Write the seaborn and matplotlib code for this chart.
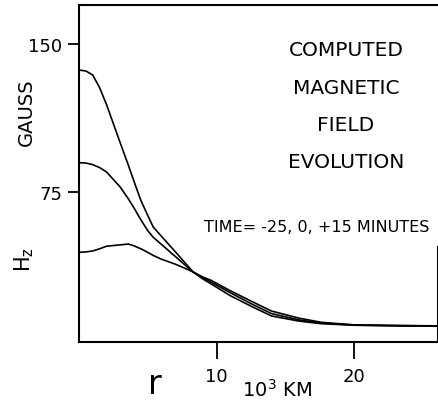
import matplotlib
matplotlib.use("Agg")
import matplotlib.pyplot as plt
import seaborn as sns
import pandas as pd

# radius in 10^3 km
r = [0, 0.5, 1, 1.5, 2, 3, 3.6, 4, 4.5, 5, 5.4, 6, 7, 8, 8.3, 9, 9.6, 11, 12.5, 14, 16, 17.6, 20, 23, 26]

# Hz (gauss) for the three times
hz_a = [137, 136.5, 134.5, 128, 119.5, 100, 88.5, 80.5, 70.8, 63.2, 57.3, 52.6, 44.8, 36.9, 34.5,
        31, 28.5, 22.5, 17.2, 12.2, 9.6, 8.3, 7.5, 7.2, 7.0]
hz_b = [90, 89.8, 89, 87.5, 85.3, 77.6, 71.5, 67, 61, 55.5, 52.1, 48.5, 42.4, 36.3, 34.5,
        31.5, 29.4, 24, 18.5, 13.4, 10.2, 8.6, 7.6, 7.3, 7.1]
hz_c = [44.5, 44.7, 45.2, 46.3, 47.6, 48.3, 48.7, 47.8, 46.3, 44.5, 42.9, 41, 38.5, 35.5, 34.5,
        32, 30.3, 25, 19.8, 14.7, 11.1, 9.0, 7.7, 7.4, 7.2]
times = ["-25", "0", "+15"]

x_ticks = [10, 20]
y_ticks = [75, 150]

df = pd.concat([
    pd.DataFrame({"r": r, "hz": h, "time": t})
    for h, t in zip([hz_a, hz_b, hz_c], times)
])

sns.set_style("ticks")
plt.rcParams["font.family"] = ["DejaVu Sans"]
plt.rcParams["text.color"] = "black"
plt.rcParams["xtick.color"] = "black"
plt.rcParams["ytick.color"] = "black"

W, H = 439, 406
fig = plt.figure(figsize=(W / 100, H / 100), dpi=100)
ax = fig.add_axes([79 / W, 1 - 343 / H, (438 - 79) / W, (343 - 6) / H])

sns.lineplot(data=df, x="r", y="hz", units="time", estimator=None,
             color="black", linewidth=1.2, ax=ax, sort=False)

ax.set_xlim(0, 26.1)
ax.set_ylim(-1, 170)
ax.set_xticks(x_ticks)
ax.set_yticks(y_ticks)
ax.set_xlabel("")
ax.set_ylabel("")
ax.tick_params(axis="x", direction="out", length=12, width=1.3, pad=6, labelsize=13)
ax.tick_params(axis="y", direction="out", length=8, width=1.3, pad=4, labelsize=13)
for s in ax.spines.values():
    s.set_linewidth(1.5)
    s.set_color("black")
ax.spines["right"].set_bounds(-1, 47)


def ftext(x, y, s, **kw):
    fig.text(x / W, 1 - y / H, s, ha="center", va="center", color="black", **kw)


ftext(26, 112, "GAUSS", rotation=90, fontsize=14)
ftext(24, 260, r"H$_\mathregular{z}$", rotation=90, fontsize=15)
ftext(155, 385, "r", fontsize=24)
ftext(277, 390, r"10$^\mathregular{3}$ KM", fontsize=14)

for label, y in zip(["COMPUTED", "MAGNETIC", "FIELD", "EVOLUTION"], [51, 89, 126, 163]):
    ftext(346, y, label, fontsize=14.5)
ftext(317, 228, "TIME= -25, 0, +15 MINUTES", fontsize=11.5)

fig.savefig("out.png", dpi=100)
